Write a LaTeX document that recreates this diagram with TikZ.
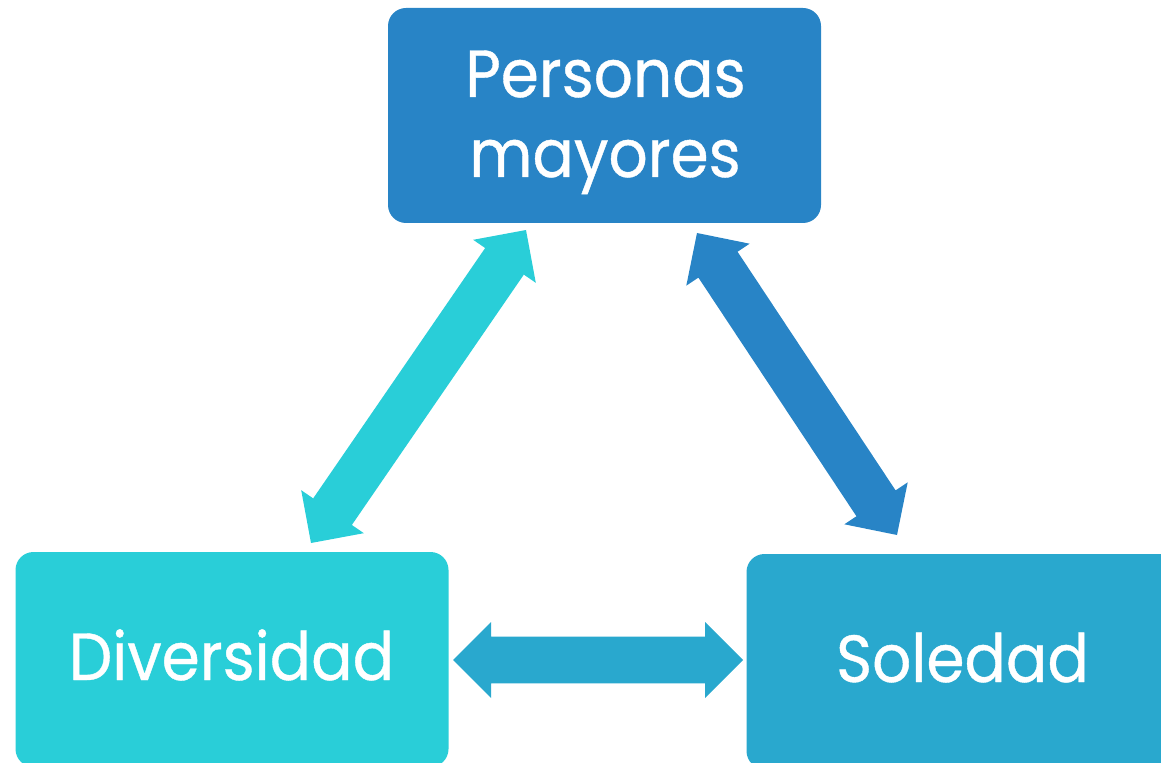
\documentclass[tikz,border=0pt]{standalone}
\usepackage{fontspec}
\setmainfont{Poppins}[FakeStretch=0.92, FakeBold=0.6]
\usetikzlibrary{calc}
\definecolor{cblue}{HTML}{2884C6}
\definecolor{ccyan}{HTML}{29CED8}
\definecolor{cmid}{HTML}{29A8CE}
\tikzset{
  box/.style={rounded corners=13.5pt, minimum width=324.75pt, minimum height=161.25pt, inner sep=0pt, draw=none},
  lbl/.style={text=white, font=\fontsize{50}{60}\selectfont, inner sep=0pt, anchor=base},
}
\newcommand\blockarrow[3]{%
  \coordinate (h1) at ($(#1)!28.5pt!(#2)$);
  \coordinate (h2) at ($(#2)!28.5pt!(#1)$);
  \fill[#3] (#1) -- ($(h1)!28.5pt!90:(#2)$) -- ($(h1)!17.6pt!90:(#2)$)
    -- ($(h2)!17.6pt!-90:(#1)$) -- ($(h2)!28.5pt!-90:(#1)$) -- (#2)
    -- ($(h2)!28.5pt!90:(#1)$) -- ($(h2)!17.6pt!90:(#1)$)
    -- ($(h1)!17.6pt!-90:(#2)$) -- ($(h1)!28.5pt!-90:(#2)$) -- cycle;
}
\begin{document}
\begin{tikzpicture}[x=0.75pt, y=-0.75pt]
\useasboundingbox (0,0) rectangle (1161,763);
\clip (0,0) rectangle (1161,763);
% boxes
\node[box, fill=cblue] (pm) at (604.5,115.5) {};
\node[box, fill=ccyan] (dv) at (232,659.5) {};
\node[box, fill=cmid]  (sl) at (963,661.5) {};
% labels
\node[lbl] (pmt1) at (605.5,97) {Personas};
\node[lbl] (pmt2) at (605,177) {mayores};
\node[lbl] (dvt) at (231.5,680) {Diversidad};
\node[lbl] (slt) at (962.5,682) {Soledad};
% arrow end points
\coordinate (la1) at (311,543);
\coordinate (la2) at (526,230);
\coordinate (ra1) at (697,233);
\coordinate (ra2) at (897,535);
\coordinate (ha1) at (453,660);
\coordinate (ha2) at (743,660);
\blockarrow{la1}{la2}{ccyan}
\blockarrow{ra1}{ra2}{cblue}
\blockarrow{ha1}{ha2}{cmid}
\end{tikzpicture}
\end{document}
